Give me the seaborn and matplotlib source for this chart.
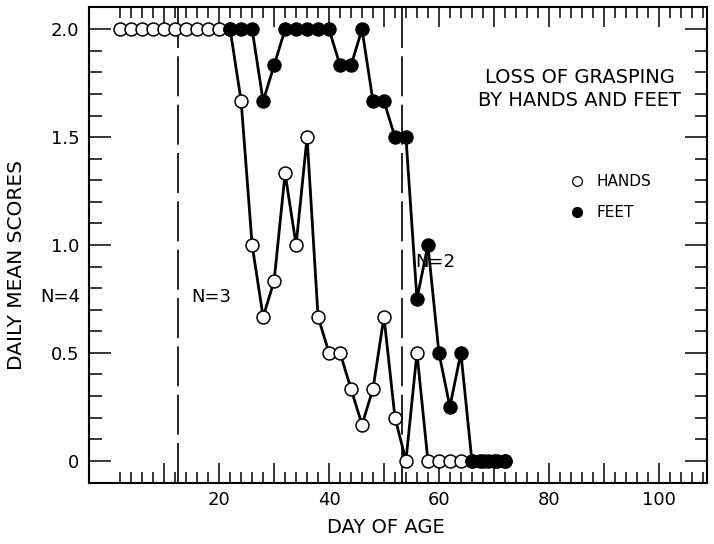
import numpy as np
import pandas as pd
import matplotlib
matplotlib.use("Agg")
import matplotlib.pyplot as plt
from matplotlib.lines import Line2D
from matplotlib.ticker import FixedLocator, FixedFormatter
import seaborn as sns

# ---- data ----
hands_days = [2, 4, 6, 8, 10, 12, 14, 16, 18, 20, 22, 24, 26, 28, 30, 32, 34, 36,
              38, 40, 42, 44, 46, 48, 50, 52, 54, 56, 58, 60, 62, 64, 66, 68, 70, 72]
hands_scores = [2.0, 2.0, 2.0, 2.0, 2.0, 2.0, 2.0, 2.0, 2.0, 2.0, 2.0, 1.667, 1.0,
                0.667, 0.833, 1.333, 1.0, 1.5, 0.667, 0.5, 0.5, 0.333, 0.167, 0.333,
                0.667, 0.2, 0.0, 0.5, 0.0, 0.0, 0.0, 0.0, 0.0, 0.0, 0.0, 0.0]
feet_days = [22, 24, 26, 28, 30, 32, 34, 36, 38, 40, 42, 44, 46, 48, 50, 52, 54, 56,
             58, 60, 62, 64, 66, 67.5, 69, 70.5, 72]
feet_scores = [2.0, 2.0, 2.0, 1.667, 1.833, 2.0, 2.0, 2.0, 2.0, 2.0, 1.833, 1.833,
               2.0, 1.667, 1.667, 1.5, 1.5, 0.75, 1.0, 0.5, 0.25, 0.5, 0.0, 0.0, 0.0,
               0.0, 0.0]
group_breaks = [12.5, 53.3]
group_labels = ["N=4", "N=3", "N=2"]
x_tick_labels = ["20", "40", "60", "80", "100"]
y_tick_labels = ["0", "0.5", "1.0", "1.5", "2.0"]
series_names = ["HANDS", "FEET"]
title_text = "LOSS OF GRASPING\nBY HANDS AND FEET"

hands_df = pd.DataFrame({"day": hands_days, "score": hands_scores})
feet_df = pd.DataFrame({"day": feet_days, "score": feet_scores})

sns.set_style("ticks")
plt.rcParams["font.family"] = ["DejaVu Sans"]
plt.rcParams["text.color"] = "black"
plt.rcParams["axes.labelcolor"] = "black"
plt.rcParams["xtick.color"] = "black"
plt.rcParams["ytick.color"] = "black"
plt.rcParams["axes.edgecolor"] = "black"

W, H = 714, 544
AX_L, AX_R, AX_T, AX_B = 89.3, 707.0, 6.7, 482.7
fig = plt.figure(figsize=(W / 100, H / 100), dpi=100)
ax = fig.add_axes([AX_L / W, 1 - AX_B / H, (AX_R - AX_L) / W, (AX_B - AX_T) / H])

# group separators
for xb in group_breaks:
    ax.axvline(xb, color="black", lw=1.2, dashes=(24, 5), zorder=1)

sns.lineplot(data=hands_df, x="day", y="score", ax=ax, color="black", lw=2.0,
             marker="o", markersize=9.3, markerfacecolor="white",
             markeredgecolor="black", markeredgewidth=1.1, zorder=3,
             estimator=None, sort=False)
sns.lineplot(data=feet_df, x="day", y="score", ax=ax, color="black", lw=2.0,
             marker="o", markersize=9.3, markerfacecolor="black",
             markeredgecolor="black", markeredgewidth=1.1, zorder=4,
             estimator=None, sort=False)

ax.set_xlim(-3.64, 108.8)
ax.set_ylim(-0.102, 2.105)

# ticks
x_major = [10, 20, 30, 40, 50, 60, 70, 80, 90, 100]
x_minor = [d for d in range(2, 109, 2) if d % 10 != 0]
ax.xaxis.set_major_locator(FixedLocator(x_major))
ax.xaxis.set_major_formatter(FixedFormatter(["", x_tick_labels[0], "", x_tick_labels[1], "",
                                              x_tick_labels[2], "", x_tick_labels[3], "",
                                              x_tick_labels[4]]))
ax.xaxis.set_minor_locator(FixedLocator(x_minor))
y_major = [0, 0.5, 1.0, 1.5, 2.0]
y_minor = [round(v * 0.1, 1) for v in range(1, 21) if v % 5 != 0]
ax.yaxis.set_major_locator(FixedLocator(y_major))
ax.yaxis.set_major_formatter(FixedFormatter(y_tick_labels))
ax.yaxis.set_minor_locator(FixedLocator(y_minor))

ax.tick_params(axis="x", which="major", direction="in", length=14.5, width=1.1,
               top=True, bottom=True, labelsize=13, pad=6, color="black",
               labelcolor="black")
ax.tick_params(axis="x", which="minor", direction="in", length=8, width=1.1,
               top=True, bottom=True, color="black")
ax.tick_params(axis="y", which="major", direction="in", length=16, width=1.1,
               left=True, right=True, labelsize=13, pad=7, color="black",
               labelcolor="black")
ax.tick_params(axis="y", which="minor", direction="in", length=9, width=1.1,
               left=True, right=True, color="black")

for sp in ax.spines.values():
    sp.set_visible(True)
    sp.set_color("black")
    sp.set_linewidth(1.5)

ax.set_xlabel("DAY OF AGE", fontsize=14, color="black")
ax.set_ylabel("DAILY MEAN SCORES", fontsize=14.5, color="black")
ax.xaxis.set_label_coords((386 - AX_L) / (AX_R - AX_L), (AX_B - 518) / (AX_B - AX_T))
ax.yaxis.set_label_coords((26 - AX_L) / (AX_R - AX_L), (AX_B - 265) / (AX_B - AX_T))

# annotations
fig.text(60 / W, 1 - 297 / H, group_labels[0], fontsize=13, ha="center", va="center")
fig.text(211 / W, 1 - 297 / H, group_labels[1], fontsize=13, ha="center", va="center")
fig.text(435 / W, 1 - 262 / H, group_labels[2], fontsize=13, ha="center", va="center")
fig.text(580 / W, 1 - 89 / H, title_text, fontsize=14, ha="center", va="center",
         multialignment="center", linespacing=1.25)

handles = [
    Line2D([], [], ls="none", marker="o", markersize=7, markerfacecolor="white",
           markeredgecolor="black", markeredgewidth=0.9),
    Line2D([], [], ls="none", marker="o", markersize=7, markerfacecolor="black",
           markeredgecolor="black"),
]
leg = ax.legend(handles, series_names, loc="upper left",
                bbox_to_anchor=(572 / W, 1 - 174 / H), bbox_transform=fig.transFigure,
                frameon=False, fontsize=11, handlelength=0.7, handletextpad=0.9,
                labelspacing=1.05, borderpad=0, borderaxespad=0)
for t in leg.get_texts():
    t.set_color("black")

fig.savefig("out.png", dpi=100)
